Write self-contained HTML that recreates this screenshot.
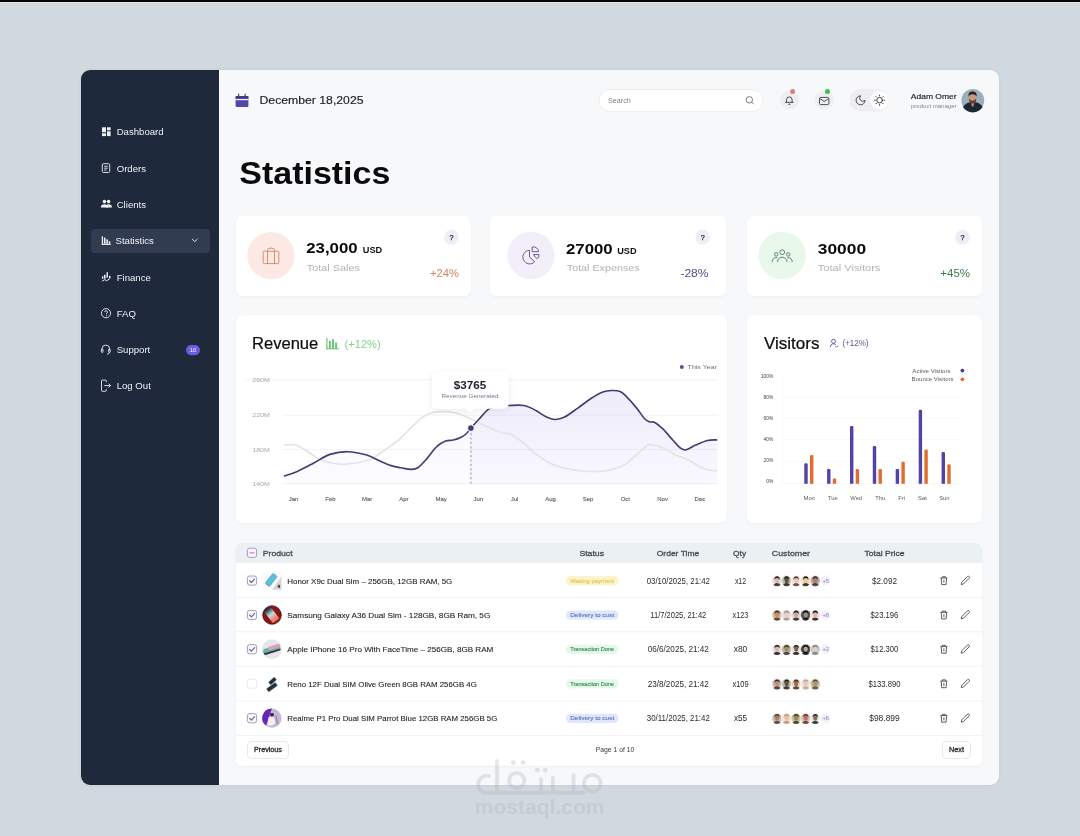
<!DOCTYPE html>
<html><head><meta charset="utf-8"><style>
html,body{margin:0;padding:0;background:#cfd9df;width:1080px;height:836px;overflow:hidden}
svg{display:block;font-family:"Liberation Sans", sans-serif;will-change:transform}
</style></head><body>
<svg width="1080" height="836" viewBox="0 0 1080 836">
<defs>
<linearGradient id="revfill" x1="0" y1="0" x2="0" y2="1">
<stop offset="0" stop-color="#efebfb" stop-opacity="1"/>
<stop offset="1" stop-color="#f9f8fe" stop-opacity="1"/>
</linearGradient>
<filter id="sh" x="-10%" y="-10%" width="120%" height="130%"><feDropShadow dx="0" dy="1" stdDeviation="1.5" flood-color="#000" flood-opacity="0.04"/></filter>
<filter id="tsh" x="-20%" y="-20%" width="140%" height="160%"><feDropShadow dx="0" dy="2" stdDeviation="3" flood-color="#000" flood-opacity="0.08"/></filter>
<filter id="msh" x="-5%" y="-5%" width="110%" height="110%"><feDropShadow dx="0" dy="0" stdDeviation="1.6" flood-color="#000" flood-opacity="0.07"/></filter>
<clipPath id="revclip"><rect x="236" y="315" width="491" height="208" rx="8"/></clipPath>
</defs>
<rect x="0" y="0" width="1080" height="2" fill="#050608"/>
<rect x="0" y="2" width="1080" height="1" fill="#e2e6ea"/>
<rect x="81" y="70" width="918" height="715" rx="9" fill="#f7f8fa" filter="url(#msh)"/>
<path d="M90,70 H219 V785 H90 A9,9 0 0 1 81,776 V79 A9,9 0 0 1 90,70 Z" fill="#1e293b"/>
<rect x="91" y="229" width="119" height="24" rx="4" fill="#323c50"/>
<text x="116.7" y="135.3" font-size="9.6" fill="#eef0f4">Dashboard</text>
<text x="116.7" y="171.5" font-size="9.6" fill="#eef0f4">Orders</text>
<text x="116.7" y="208.0" font-size="9.6" fill="#eef0f4">Clients</text>
<text x="115.5" y="244.2" font-size="9.6" fill="#eef0f4">Statistics</text>
<text x="116.7" y="280.5" font-size="9.6" fill="#eef0f4">Finance</text>
<text x="116.7" y="316.7" font-size="9.6" fill="#eef0f4">FAQ</text>
<text x="116.7" y="353.0" font-size="9.6" fill="#eef0f4">Support</text>
<text x="116.7" y="389.3" font-size="9.6" fill="#eef0f4">Log Out</text>
<g fill="#eef0f4"><rect x="102" y="127.3" width="4" height="5" /><rect x="107" y="127.3" width="3.6" height="3"/><rect x="107" y="131.3" width="3.6" height="4.8"/><rect x="102" y="133.3" width="4" height="2.8"/></g>
<g fill="none" stroke="#eef0f4" stroke-width="0.9"><rect x="102.3" y="163.7" width="7.4" height="8.8" rx="1.2"/><path d="M104.2,166.3h3.6M104.2,168.2h3.6M104.2,170.1h2.4"/></g>
<g fill="#eef0f4"><circle cx="104.4" cy="201.6" r="1.8"/><circle cx="108.6" cy="201.6" r="1.8"/><path d="M100.8,207.6c0,-2.4 1.6,-3.4 3.6,-3.4s3.6,1 3.6,3.4z"/><path d="M105.6,207.6c0.2,-2.2 1.2,-3.4 3,-3.4s3.4,1 3.4,3.4z"/></g>
<g fill="#eef0f4"><rect x="101.8" y="236.3" width="1.2" height="8.6"/><rect x="101.8" y="243.7" width="9" height="1.2"/><rect x="103.9" y="237.6" width="1.6" height="6.1"/><rect x="106.3" y="239.4" width="1.6" height="4.3"/><rect x="108.7" y="241.3" width="1.6" height="2.4"/></g>
<path d="M192.4,239.3 l2.4,2.3 l2.4,-2.3" fill="none" stroke="#eef0f4" stroke-width="0.95" stroke-linecap="round" stroke-linejoin="round"/>
<g fill="#eef0f4"><rect x="102" y="276.3" width="1.3" height="2.6"/><rect x="104" y="274.8" width="1.6" height="3.8"/><rect x="106.5" y="272.2" width="1.4" height="5.4"/><rect x="108.9" y="275.9" width="1.6" height="2"/></g><path d="M102.2,281.2 L104.8,279.6 L106.7,280.8 L110.4,278.2" fill="none" stroke="#eef0f4" stroke-width="1"/>
<g fill="none" stroke="#eef0f4" stroke-width="0.9"><circle cx="106" cy="313.2" r="4.6"/><path d="M104.6,312.1 a1.45,1.45 0 1 1 1.9,1.4 v0.8"/></g><circle cx="106.5" cy="315.8" r="0.55" fill="#eef0f4"/>
<g fill="none" stroke="#eef0f4" stroke-width="0.9"><path d="M101.9,350.5 v-1.5 a3.9,3.9 0 0 1 7.8,0 v1.5"/><rect x="101.4" y="349.2" width="1.6" height="3.2" rx="0.6"/><rect x="108.6" y="349.2" width="1.6" height="3.2" rx="0.6"/><path d="M109.4,352.4 q0,1.6 -2.4,1.8"/></g>
<rect x="186" y="345" width="14" height="10.2" rx="5.1" fill="#6a5be0"/>
<text x="193" y="351.9" font-size="5.8" fill="#ffffff" text-anchor="middle">10</text>
<g fill="none" stroke="#eef0f4" stroke-width="0.9"><path d="M106.3,382.2 v-1.2 a0.9,0.9 0 0 0 -0.9,-0.9 h-3 a0.9,0.9 0 0 0 -0.9,0.9 v9.4 a0.9,0.9 0 0 0 0.9,0.9 h3 a0.9,0.9 0 0 0 0.9,-0.9 v-1.2"/><path d="M104.3,385.6 h6.2 M108.6,383.7 l1.9,1.9 l-1.9,1.9"/></g>
<rect x="235.6" y="96" width="12.8" height="10.9" rx="1.2" fill="#5545a8"/><rect x="235.6" y="96" width="12.8" height="2.9" rx="0.8" fill="#42368f"/><rect x="235.3" y="98.9" width="13.4" height="1.3" fill="#f4f2fd"/><rect x="238.1" y="93.7" width="1.1" height="2.6" fill="#3c3658"/><rect x="244.6" y="93.7" width="1.1" height="2.6" fill="#3c3658"/>
<text x="259.5" y="104.2" font-size="11.7" fill="#1d1d1f" stroke="#1d1d1f" stroke-width="0.15" textLength="104" lengthAdjust="spacingAndGlyphs">December 18,2025</text>
<rect x="599" y="89.5" width="164" height="22" rx="11" fill="#ffffff" stroke="#e8eaee" stroke-width="0.8"/>
<text x="608" y="102.9" font-size="7" fill="#7d8088" textLength="22.8" lengthAdjust="spacingAndGlyphs">Search</text>
<g fill="none" stroke="#666a70" stroke-width="0.9"><circle cx="749.3" cy="99.8" r="3.2"/><path d="M751.6,102.1 l2.2,2.2"/></g>
<circle cx="789.5" cy="100" r="9.5" fill="#edeef0"/>
<g fill="none" stroke="#3a3d44" stroke-width="0.9" stroke-linecap="round"><path d="M785.5,102.3 h7.6 M786.5,102.3 v-2.5 q0,-2.9 2.8,-2.9 q2.8,0 2.8,2.9 v2.5"/><path d="M788.5,104.2 h1.6"/></g>
<circle cx="792.6" cy="91.5" r="2.5" fill="#e07885"/>
<circle cx="824.3" cy="100" r="9.5" fill="#edeef0"/>
<g fill="none" stroke="#3a3d44" stroke-width="0.9"><rect x="819.5" y="97.4" width="9.4" height="7.2" rx="1.3"/><path d="M819.9,98.6 l4.3,2.9 l4.3,-2.9"/></g>
<circle cx="827.5" cy="91.5" r="2.5" fill="#3ec04c"/>
<rect x="849.5" y="89" width="40" height="22.4" rx="11.2" fill="#eeeef0"/>
<circle cx="879.5" cy="100.2" r="9.4" fill="#ffffff"/>
<path transform="translate(854.6,94.3) scale(0.5)" d="M12 3a6 6 0 0 0 9 9 9 9 0 1 1-9-9Z" fill="none" stroke="#3a3d44" stroke-width="1.8" stroke-linejoin="round"/>
<g fill="none" stroke="#3a3d44" stroke-width="1" stroke-linecap="round"><circle cx="879.6" cy="100.2" r="2.8"/><path d="M883.90,100.20L884.70,100.20M882.64,103.24L883.21,103.81M879.60,104.50L879.60,105.30M876.56,103.24L875.99,103.81M875.30,100.20L874.50,100.20M876.56,97.16L875.99,96.59M879.60,95.90L879.60,95.10M882.64,97.16L883.21,96.59"/></g>
<text x="910.8" y="99.1" font-size="7.2" fill="#1d1d1f" stroke="#1d1d1f" stroke-width="0.15" textLength="45.8" lengthAdjust="spacingAndGlyphs">Adam Omer</text>
<text x="911" y="107.6" font-size="5.4" fill="#85878d" textLength="45.5" lengthAdjust="spacingAndGlyphs">product manager</text>
<circle cx="972.8" cy="100.4" r="11.4" fill="#9cadbb"/>
<path d="M963,107 Q965.5,103 970.3,102.3 L975.3,102.3 Q980.3,103 982.6,107 A11.4,11.4 0 0 1 963,107 Z" fill="#1b2633"/>
<path d="M971,102 L974.4,102 L973.6,106.5 L971.8,106.5 Z" fill="#b08870"/>
<ellipse cx="972.6" cy="98.3" rx="3.7" ry="4.5" fill="#c49a80"/>
<path d="M968.9,98.6 Q969.2,103.6 972.6,103.6 Q976,103.6 976.3,98.6 Q974.8,100.8 972.6,100.8 Q970.4,100.8 968.9,98.6 Z" fill="#5e3e2c"/>
<path d="M968.5,97 Q967.8,91.6 972.5,91.6 Q977.3,91.6 976.6,97 Q975.8,94.2 972.5,94.2 Q969.3,94.2 968.5,97 Z" fill="#28211c"/>
<text x="239.3" y="183.9" font-size="32" fill="#0b0b0c" font-weight="700" textLength="151" lengthAdjust="spacingAndGlyphs">Statistics</text>
<rect x="236" y="216" width="235" height="80" rx="7" fill="#ffffff" filter="url(#sh)"/>
<rect x="490" y="216" width="236" height="80" rx="7" fill="#ffffff" filter="url(#sh)"/>
<rect x="747" y="216" width="235" height="80" rx="7" fill="#ffffff" filter="url(#sh)"/>
<circle cx="271" cy="255.7" r="23.7" fill="#fce9e3"/>
<circle cx="531" cy="255.5" r="23.7" fill="#f2effb"/>
<circle cx="782.2" cy="255.5" r="23.7" fill="#e8f9ec"/>
<g fill="none" stroke="#d08466" stroke-width="0.9"><rect x="263.2" y="251.2" width="15.6" height="12.4" rx="1"/><path d="M267.5,251.2 v-0.6 a3.5,2.6 0 0 1 7,0 v0.6"/><path d="M267.5,251.2 v12.4 M274.5,251.2 v12.4"/></g>
<g fill="none" stroke="#5a4a8a" stroke-width="0.9"><path d="M529.5,250.3 a6.8,6.8 0 1 0 5.2,11.4 l-5.2,-4.6 z"/><path d="M532.2,247 a5,5 0 0 1 6.3,4.7 h-6.3 z"/><path d="M533.4,254.6 h5.6 a3.4,3.4 0 0 1 -2.2,4.1 z"/></g>
<g fill="none" stroke="#4f7d52" stroke-width="0.9"><circle cx="782.2" cy="252.2" r="2.4"/><path d="M777.4,262 a4.8,4.8 0 0 1 9.6,0"/><circle cx="776.2" cy="254.4" r="1.7"/><path d="M772.2,262 a4,4 0 0 1 5,-4.3"/><circle cx="788.2" cy="254.4" r="1.7"/><path d="M792.2,262 a4,4 0 0 0 -5,-4.3"/></g>
<text x="306.2" y="253.4" font-size="15.2" fill="#0b0b0c" font-weight="700" textLength="51.4" lengthAdjust="spacingAndGlyphs">23,000</text>
<text x="362.8" y="253.3" font-size="8.3" fill="#111" font-weight="700" textLength="19.4" lengthAdjust="spacingAndGlyphs">USD</text>
<text x="566" y="253.6" font-size="15.2" fill="#0b0b0c" font-weight="700" textLength="46.6" lengthAdjust="spacingAndGlyphs">27000</text>
<text x="617.2" y="253.7" font-size="8.3" fill="#111" font-weight="700" textLength="19.4" lengthAdjust="spacingAndGlyphs">USD</text>
<text x="817.8" y="253.6" font-size="15.2" fill="#0b0b0c" font-weight="700" textLength="48.3" lengthAdjust="spacingAndGlyphs">30000</text>
<text x="306.8" y="270.6" font-size="9.8" fill="#b3b3b6" textLength="53.2" lengthAdjust="spacingAndGlyphs">Total Sales</text>
<text x="566.8" y="270.6" font-size="9.8" fill="#b3b3b6" textLength="72.8" lengthAdjust="spacingAndGlyphs">Total Expenses</text>
<text x="817.8" y="270.6" font-size="9.8" fill="#b3b3b6" textLength="62.6" lengthAdjust="spacingAndGlyphs">Total Visitors</text>
<circle cx="451.5" cy="237.2" r="7.4" fill="#eeeef8"/>
<text x="451.5" y="239.7" font-size="7.2" fill="#222" stroke="#222" stroke-width="0.25" text-anchor="middle">?</text>
<circle cx="702.7" cy="237" r="7.4" fill="#eeeef8"/>
<text x="702.7" y="239.5" font-size="7.2" fill="#222" stroke="#222" stroke-width="0.25" text-anchor="middle">?</text>
<circle cx="962.5" cy="237.2" r="7.4" fill="#eeeef8"/>
<text x="962.5" y="239.7" font-size="7.2" fill="#222" stroke="#222" stroke-width="0.25" text-anchor="middle">?</text>
<text x="430" y="277.4" font-size="10.8" fill="#d0855c" textLength="28.8" lengthAdjust="spacingAndGlyphs">+24%</text>
<text x="680.4" y="277.4" font-size="10.8" fill="#564a8c" textLength="28.2" lengthAdjust="spacingAndGlyphs">-28%</text>
<text x="940.3" y="277.4" font-size="10.8" fill="#3f7a45" textLength="29.7" lengthAdjust="spacingAndGlyphs">+45%</text>
<rect x="236" y="315.3" width="491" height="207.5" rx="7" fill="#ffffff" filter="url(#sh)"/>
<text x="252" y="349.4" font-size="16.4" fill="#0b0b0c" stroke="#0b0b0c" stroke-width="0.2" textLength="66.3" lengthAdjust="spacingAndGlyphs">Revenue</text>
<g fill="#6cc77b"><rect x="326.3" y="338" width="1.2" height="11.3"/><rect x="326.3" y="348.1" width="12.5" height="1.2"/><rect x="328.9" y="341" width="2" height="7.1"/><rect x="332" y="339.2" width="2" height="8.9"/><rect x="335.1" y="342.5" width="2" height="5.6"/></g>
<text x="344.6" y="348.3" font-size="11.4" fill="#86cf92" textLength="36" lengthAdjust="spacingAndGlyphs">(+12%)</text>
<circle cx="681.8" cy="367.1" r="2" fill="#5b4ba8"/>
<text x="687.6" y="369.3" font-size="6.2" fill="#6a6d75" textLength="29.3" lengthAdjust="spacingAndGlyphs">This Year</text>
<text x="252.3" y="381.90000000000003" font-size="6.2" fill="#a8aab0" textLength="17.6" lengthAdjust="spacingAndGlyphs">260M</text>
<text x="252.3" y="417.3" font-size="6.2" fill="#a8aab0" textLength="17.6" lengthAdjust="spacingAndGlyphs">220M</text>
<text x="252.3" y="451.5" font-size="6.2" fill="#a8aab0" textLength="17.6" lengthAdjust="spacingAndGlyphs">180M</text>
<text x="252.3" y="485.8" font-size="6.2" fill="#a8aab0" textLength="17.6" lengthAdjust="spacingAndGlyphs">140M</text>
<path d="M283.9,476.1 C286.0,475.4 291.8,473.8 296.7,471.7 C301.6,469.6 307.8,466.2 313.3,463.3 C318.9,460.4 324.2,456.3 330.0,454.4 C335.8,452.5 341.7,451.6 347.8,451.7 C353.9,451.8 361.3,453.4 366.7,455.0 C372.1,456.6 375.9,459.3 380.0,461.1 C384.1,462.9 387.6,464.5 391.1,465.6 C394.6,466.7 397.8,467.2 401.1,467.8 C404.4,468.4 408.3,469.4 411.1,469.4 C413.9,469.4 415.2,469.6 417.8,467.8 C420.4,466.1 423.6,462.4 426.7,458.9 C429.8,455.4 433.5,449.7 436.7,446.7 C439.9,443.7 442.8,442.2 445.6,441.1 C448.4,440.0 450.7,440.6 453.3,440.0 C455.9,439.4 458.9,438.3 461.1,437.2 C463.3,436.1 464.9,435.0 466.5,433.5 C468.1,432.0 468.8,430.5 470.9,428.1 C473.0,425.7 475.9,422.4 478.9,419.2 C481.9,416.0 485.9,411.1 488.9,408.9 C491.9,406.7 493.8,406.4 497.0,405.8 C500.2,405.2 503.9,405.6 508.4,405.5 C512.9,405.4 519.3,404.7 523.9,405.5 C528.5,406.3 532.3,408.7 535.9,410.5 C539.5,412.3 542.3,415.0 545.5,416.5 C548.7,418.0 551.8,419.4 555.0,419.5 C558.2,419.6 560.8,419.0 564.6,417.1 C568.4,415.2 573.4,411.2 577.8,408.1 C582.2,405.0 586.7,401.2 590.9,398.5 C595.1,395.8 599.5,393.3 602.9,392.0 C606.3,390.7 608.4,390.6 611.2,390.5 C614.0,390.4 617.2,390.3 619.6,391.2 C622.0,392.1 623.0,393.1 625.8,395.8 C628.6,398.5 633.2,403.9 636.3,407.6 C639.4,411.3 642.0,415.8 644.2,418.2 C646.4,420.6 647.8,421.1 649.5,421.8 C651.2,422.5 652.5,421.2 654.7,422.4 C656.9,423.5 659.5,425.7 662.6,428.7 C665.7,431.7 670.1,437.2 673.2,440.5 C676.3,443.8 678.8,446.9 681.0,448.4 C683.2,449.9 683.9,450.2 686.3,449.7 C688.7,449.1 692.0,446.6 695.5,445.1 C699.0,443.6 703.8,441.4 707.4,440.5 C711.0,439.6 715.6,440.0 717.2,439.9 L717.2,484 L283.9,484 Z" fill="url(#revfill)"/>
<rect x="283" y="380" width="188" height="104" fill="#ffffff" opacity="0.55"/>
<rect x="245" y="379.40000000000003" width="473" height="0.8" fill="#5a5080" opacity="0.085"/>
<rect x="283" y="414.8" width="435" height="0.8" fill="#5a5080" opacity="0.085"/>
<rect x="283" y="449.0" width="435" height="0.8" fill="#5a5080" opacity="0.085"/>
<rect x="283" y="483.3" width="435" height="0.8" fill="#5a5080" opacity="0.085"/>
<path d="M283.9,445.0 C285.8,445.0 292.0,444.2 295.6,445.0 C299.2,445.8 301.7,447.7 305.6,450.0 C309.5,452.3 314.5,456.7 318.9,458.9 C323.3,461.1 327.4,462.1 332.0,463.0 C336.6,463.9 340.6,464.7 346.7,464.2 C352.8,463.7 363.3,461.8 368.9,460.0 C374.4,458.2 376.3,455.7 380.0,453.3 C383.7,450.9 387.6,448.2 391.1,445.6 C394.6,443.0 397.6,441.0 401.1,437.8 C404.6,434.6 408.5,430.2 412.2,426.7 C415.9,423.2 419.6,419.1 423.3,416.7 C427.0,414.3 430.7,413.0 434.4,412.2 C438.1,411.4 441.5,411.4 445.6,411.7 C449.7,412.0 454.3,412.5 458.9,413.9 C463.5,415.3 469.1,418.1 473.3,420.0 C477.6,421.9 479.8,423.6 484.4,425.6 C489.0,427.6 496.5,430.6 501.1,432.2 C505.7,433.8 508.2,433.1 512.0,435.0 C515.8,436.9 519.9,440.2 523.9,443.4 C527.9,446.6 530.9,450.6 535.9,454.2 C540.9,457.8 547.8,462.3 553.8,464.9 C559.8,467.5 565.8,468.6 571.8,469.7 C577.8,470.8 583.7,471.4 589.7,471.5 C595.7,471.6 602.1,471.3 607.7,470.3 C613.3,469.3 618.4,468.1 623.2,465.5 C628.0,462.9 632.4,458.3 636.3,455.0 C640.2,451.7 644.2,447.5 646.8,445.8 C649.4,444.1 649.5,444.6 652.1,444.9 C654.7,445.2 658.7,446.1 662.6,447.8 C666.5,449.5 672.1,453.2 675.8,455.0 C679.5,456.8 681.7,456.8 685.0,458.3 C688.3,459.8 692.0,462.3 695.5,464.2 C699.0,466.1 702.4,468.4 706.0,469.5 C709.6,470.6 715.3,470.6 717.2,470.8" fill="none" stroke="#e4e3ea" stroke-width="1.7"/>
<path d="M283.9,476.1 C286.0,475.4 291.8,473.8 296.7,471.7 C301.6,469.6 307.8,466.2 313.3,463.3 C318.9,460.4 324.2,456.3 330.0,454.4 C335.8,452.5 341.7,451.6 347.8,451.7 C353.9,451.8 361.3,453.4 366.7,455.0 C372.1,456.6 375.9,459.3 380.0,461.1 C384.1,462.9 387.6,464.5 391.1,465.6 C394.6,466.7 397.8,467.2 401.1,467.8 C404.4,468.4 408.3,469.4 411.1,469.4 C413.9,469.4 415.2,469.6 417.8,467.8 C420.4,466.1 423.6,462.4 426.7,458.9 C429.8,455.4 433.5,449.7 436.7,446.7 C439.9,443.7 442.8,442.2 445.6,441.1 C448.4,440.0 450.7,440.6 453.3,440.0 C455.9,439.4 458.9,438.3 461.1,437.2 C463.3,436.1 464.9,435.0 466.5,433.5 C468.1,432.0 468.8,430.5 470.9,428.1 C473.0,425.7 475.9,422.4 478.9,419.2 C481.9,416.0 485.9,411.1 488.9,408.9 C491.9,406.7 493.8,406.4 497.0,405.8 C500.2,405.2 503.9,405.6 508.4,405.5 C512.9,405.4 519.3,404.7 523.9,405.5 C528.5,406.3 532.3,408.7 535.9,410.5 C539.5,412.3 542.3,415.0 545.5,416.5 C548.7,418.0 551.8,419.4 555.0,419.5 C558.2,419.6 560.8,419.0 564.6,417.1 C568.4,415.2 573.4,411.2 577.8,408.1 C582.2,405.0 586.7,401.2 590.9,398.5 C595.1,395.8 599.5,393.3 602.9,392.0 C606.3,390.7 608.4,390.6 611.2,390.5 C614.0,390.4 617.2,390.3 619.6,391.2 C622.0,392.1 623.0,393.1 625.8,395.8 C628.6,398.5 633.2,403.9 636.3,407.6 C639.4,411.3 642.0,415.8 644.2,418.2 C646.4,420.6 647.8,421.1 649.5,421.8 C651.2,422.5 652.5,421.2 654.7,422.4 C656.9,423.5 659.5,425.7 662.6,428.7 C665.7,431.7 670.1,437.2 673.2,440.5 C676.3,443.8 678.8,446.9 681.0,448.4 C683.2,449.9 683.9,450.2 686.3,449.7 C688.7,449.1 692.0,446.6 695.5,445.1 C699.0,443.6 703.8,441.4 707.4,440.5 C711.0,439.6 715.6,440.0 717.2,439.9" fill="none" stroke="#463b72" stroke-width="1.65"/>
<path d="M470.9,433 V484" stroke="#a6a1ba" stroke-width="1.25" stroke-dasharray="2.2,2.2"/>
<circle cx="470.9" cy="428.1" r="3.4" fill="#463b72" stroke="#ffffff" stroke-width="1"/>
<g filter="url(#tsh)"><rect x="432" y="372" width="76.6" height="36.8" rx="5" fill="#ffffff"/><path d="M465.8,408.3 l4.5,4.2 l4.5,-4.2z" fill="#ffffff"/></g>
<text x="470" y="388.6" font-size="11.2" fill="#1b2130" font-weight="700" text-anchor="middle" textLength="32.5" lengthAdjust="spacingAndGlyphs">$3765</text>
<text x="470" y="397.6" font-size="5.2" fill="#7a7d85" text-anchor="middle" textLength="57" lengthAdjust="spacingAndGlyphs">Revenue Generated</text>
<text x="293.5" y="500.9" font-size="6" fill="#55585f" stroke="#55585f" stroke-width="0.1" text-anchor="middle">Jan</text>
<text x="330.4" y="500.9" font-size="6" fill="#55585f" stroke="#55585f" stroke-width="0.1" text-anchor="middle">Feb</text>
<text x="367.1" y="500.9" font-size="6" fill="#55585f" stroke="#55585f" stroke-width="0.1" text-anchor="middle">Mar</text>
<text x="403.8" y="500.9" font-size="6" fill="#55585f" stroke="#55585f" stroke-width="0.1" text-anchor="middle">Apr</text>
<text x="441.1" y="500.9" font-size="6" fill="#55585f" stroke="#55585f" stroke-width="0.1" text-anchor="middle">May</text>
<text x="478.4" y="500.9" font-size="6" fill="#55585f" stroke="#55585f" stroke-width="0.1" text-anchor="middle">Jun</text>
<text x="514.5" y="500.9" font-size="6" fill="#55585f" stroke="#55585f" stroke-width="0.1" text-anchor="middle">Jul</text>
<text x="550.6" y="500.9" font-size="6" fill="#55585f" stroke="#55585f" stroke-width="0.1" text-anchor="middle">Aug</text>
<text x="588" y="500.9" font-size="6" fill="#55585f" stroke="#55585f" stroke-width="0.1" text-anchor="middle">Sep</text>
<text x="625.3" y="500.9" font-size="6" fill="#55585f" stroke="#55585f" stroke-width="0.1" text-anchor="middle">Oct</text>
<text x="662.6" y="500.9" font-size="6" fill="#55585f" stroke="#55585f" stroke-width="0.1" text-anchor="middle">Nov</text>
<text x="699.9" y="500.9" font-size="6" fill="#55585f" stroke="#55585f" stroke-width="0.1" text-anchor="middle">Dec</text>
<rect x="747" y="315.3" width="235" height="207.5" rx="7" fill="#ffffff" filter="url(#sh)"/>
<text x="764" y="349" font-size="16" fill="#0b0b0c" stroke="#0b0b0c" stroke-width="0.2" textLength="55.5" lengthAdjust="spacingAndGlyphs">Visitors</text>
<g fill="none" stroke="#5b4ba8" stroke-width="0.9"><circle cx="833.5" cy="341.3" r="2"/><path d="M830.3,347 a3.3,3.3 0 0 1 5.6,-2.3 M835.5,346.2 l1,1 l1.8,-1.8"/></g>
<text x="842.5" y="346.3" font-size="8.6" fill="#5a5a88" textLength="26" lengthAdjust="spacingAndGlyphs">(+12%)</text>
<text x="912.3" y="372.5" font-size="5.6" fill="#5a5d66" textLength="38.3" lengthAdjust="spacingAndGlyphs">Active Visitors</text>
<text x="911.6" y="381.3" font-size="5.6" fill="#5a5d66" textLength="42" lengthAdjust="spacingAndGlyphs">Bounce Visitors</text>
<circle cx="962.4" cy="370.6" r="1.9" fill="#4d3b9c"/><circle cx="962.4" cy="379.3" r="1.9" fill="#e0723a"/>
<text x="773.4" y="377.6" font-size="4.9" fill="#444" text-anchor="end">100%</text>
<text x="773.4" y="398.6" font-size="4.9" fill="#444" text-anchor="end">80%</text>
<text x="773.4" y="419.7" font-size="4.9" fill="#444" text-anchor="end">60%</text>
<text x="773.4" y="441.0" font-size="4.9" fill="#444" text-anchor="end">40%</text>
<text x="773.4" y="462.40000000000003" font-size="4.9" fill="#444" text-anchor="end">20%</text>
<text x="773.4" y="483.3" font-size="4.9" fill="#444" text-anchor="end">0%</text>
<rect x="782" y="396.5" width="180" height="0.6" fill="#f3f3f6"/>
<rect x="782" y="417.59999999999997" width="180" height="0.6" fill="#f3f3f6"/>
<rect x="782" y="439.09999999999997" width="180" height="0.6" fill="#f3f3f6"/>
<rect x="782" y="460.9" width="180" height="0.6" fill="#f3f3f6"/>
<rect x="782" y="375" width="0.6" height="109" fill="#f3f3f6"/>
<rect x="782" y="483.4" width="180" height="0.6" fill="#f3f3f6"/>
<rect x="804.3" y="463.2" width="3.4" height="22.600000000000023" rx="1.2" fill="#5042a6"/>
<rect x="810.0" y="455" width="3.4" height="30.80000000000001" rx="1.2" fill="#e06c2e"/>
<rect x="827.1" y="469" width="3.4" height="16.80000000000001" rx="1.2" fill="#5042a6"/>
<rect x="832.8000000000001" y="478.4" width="3.4" height="7.400000000000034" rx="1.2" fill="#e06c2e"/>
<rect x="850" y="425.9" width="3.4" height="59.900000000000034" rx="1.2" fill="#5042a6"/>
<rect x="855.7" y="469" width="3.4" height="16.80000000000001" rx="1.2" fill="#e06c2e"/>
<rect x="872.8" y="446.1" width="3.4" height="39.69999999999999" rx="1.2" fill="#5042a6"/>
<rect x="878.5" y="469" width="3.4" height="16.80000000000001" rx="1.2" fill="#e06c2e"/>
<rect x="895.7" y="469" width="3.4" height="16.80000000000001" rx="1.2" fill="#5042a6"/>
<rect x="901.4000000000001" y="461.8" width="3.4" height="24.0" rx="1.2" fill="#e06c2e"/>
<rect x="918.7" y="409.7" width="3.4" height="76.10000000000002" rx="1.2" fill="#5042a6"/>
<rect x="924.4000000000001" y="449.6" width="3.4" height="36.19999999999999" rx="1.2" fill="#e06c2e"/>
<rect x="941.6" y="452.1" width="3.4" height="33.69999999999999" rx="1.2" fill="#5042a6"/>
<rect x="947.3000000000001" y="464.2" width="3.4" height="21.600000000000023" rx="1.2" fill="#e06c2e"/>
<rect x="800" y="483.8" width="160" height="3" fill="#ffffff"/>
<text x="809.2" y="500.3" font-size="5.8" fill="#55585f" text-anchor="middle">Mon</text>
<text x="832.9" y="500.3" font-size="5.8" fill="#55585f" text-anchor="middle">Tue</text>
<text x="856.2" y="500.3" font-size="5.8" fill="#55585f" text-anchor="middle">Wed</text>
<text x="880.2" y="500.3" font-size="5.8" fill="#55585f" text-anchor="middle">Thu</text>
<text x="901.6" y="500.3" font-size="5.8" fill="#55585f" text-anchor="middle">Fri</text>
<text x="922.4" y="500.3" font-size="5.8" fill="#55585f" text-anchor="middle">Sat</text>
<text x="944.3" y="500.3" font-size="5.8" fill="#55585f" text-anchor="middle">Sun</text>
<rect x="236" y="543" width="746" height="222.8" rx="5" fill="#ffffff" filter="url(#sh)"/>
<path d="M242,543 H976 A6,6 0 0 1 982,549 V563 H236 V549 A6,6 0 0 1 242,543 Z" fill="#ebf0f3"/>
<rect x="236" y="596.9" width="746" height="0.9" fill="#eff0f2"/>
<rect x="236" y="631.4" width="746" height="0.9" fill="#eff0f2"/>
<rect x="236" y="665.9" width="746" height="0.9" fill="#eff0f2"/>
<rect x="236" y="700.4" width="746" height="0.9" fill="#eff0f2"/>
<rect x="236" y="734.9" width="746" height="0.9" fill="#eff0f2"/>
<rect x="247.4" y="548.2" width="9.2" height="9.2" rx="2.2" fill="#fbf3fd" stroke="#8f86a3" stroke-width="0.8"/><rect x="249.6" y="552.3" width="4.8" height="1.1" fill="#b07fc8"/>
<text x="262.8" y="555.9" font-size="7.6" fill="#4a4d55" stroke="#4a4d55" stroke-width="0.3" textLength="29.8" lengthAdjust="spacingAndGlyphs">Product</text>
<text x="591.7" y="555.9" font-size="7.6" fill="#4a4d55" stroke="#4a4d55" stroke-width="0.3" text-anchor="middle" textLength="24.6" lengthAdjust="spacingAndGlyphs">Status</text>
<text x="678" y="555.9" font-size="7.6" fill="#4a4d55" stroke="#4a4d55" stroke-width="0.3" text-anchor="middle" textLength="42.6" lengthAdjust="spacingAndGlyphs">Order Time</text>
<text x="739.6" y="555.9" font-size="7.6" fill="#4a4d55" stroke="#4a4d55" stroke-width="0.3" text-anchor="middle" textLength="13" lengthAdjust="spacingAndGlyphs">Qty</text>
<text x="771.8" y="555.9" font-size="7.6" fill="#4a4d55" stroke="#4a4d55" stroke-width="0.3" textLength="38.2" lengthAdjust="spacingAndGlyphs">Customer</text>
<text x="884.5" y="555.9" font-size="7.6" fill="#4a4d55" stroke="#4a4d55" stroke-width="0.3" text-anchor="middle" textLength="39.8" lengthAdjust="spacingAndGlyphs">Total Price</text>
<rect x="247.4" y="576.0" width="9.2" height="9.2" rx="2.2" fill="#fbf6fd" stroke="#8f86a3" stroke-width="0.8"/>
<path d="M249.6,580.7 l1.8,1.8 l3.2,-3.4" fill="none" stroke="#6e5c9e" stroke-width="1.1" stroke-linecap="round" stroke-linejoin="round"/>
<text x="287.3" y="583.8000000000001" font-size="8.0" fill="#222328" stroke="#222328" stroke-width="0.1" textLength="165" lengthAdjust="spacingAndGlyphs">Honor X9c Dual Sim – 256GB, 12GB RAM, 5G</text>
<rect x="566" y="576.1" width="52.5" height="9.2" rx="4.6" fill="#fcf3c9"/>
<text x="592.2" y="582.7" font-size="5.1" fill="#e2c45a" stroke="#e2c45a" stroke-width="0.1" text-anchor="middle" textLength="44" lengthAdjust="spacingAndGlyphs">Waiting payment</text>
<text x="678.3" y="583.7" font-size="8.6" fill="#2a2b30" text-anchor="middle" textLength="63.2" lengthAdjust="spacingAndGlyphs">03/10/2025, 21:42</text>
<text x="740.5" y="583.7" font-size="8.3" fill="#2a2b30" text-anchor="middle" textLength="11.2" lengthAdjust="spacingAndGlyphs">x12</text>
<text x="884.5" y="583.7" font-size="8.6" fill="#2a2b30" text-anchor="middle" textLength="25" lengthAdjust="spacingAndGlyphs">$2.092</text>
<circle cx="777.0" cy="580.6" r="5" fill="#e8d8e4" stroke="#ffffff" stroke-width="0.5"/>
<path d="M773.4,584.8000000000001 q3.6,-3.4 7.2,0 a5,5 0 0 1 -7.2,0z" fill="#2a2020" opacity="0.85"/>
<ellipse cx="777.1" cy="580.4" rx="2.1" ry="2.7" fill="#e0b8a8"/>
<path d="M774.5,580.0 q-0.3,-3.6 2.6,-3.7 q2.9,0.1 2.6,3.7 q-0.6,-2 -2.6,-2.1 q-2,0.1 -2.6,2.1z" fill="#2a2020"/>
<circle cx="786.55" cy="580.6" r="5" fill="#b8c0a8" stroke="#ffffff" stroke-width="0.5"/>
<path d="M782.9499999999999,584.8000000000001 q3.6,-3.4 7.2,0 a5,5 0 0 1 -7.2,0z" fill="#202018" opacity="0.85"/>
<ellipse cx="786.65" cy="580.4" rx="2.1" ry="2.7" fill="#6a5040"/>
<path d="M784.05,580.0 q-0.3,-3.6 2.6,-3.7 q2.9,0.1 2.6,3.7 q-0.6,-2 -2.6,-2.1 q-2,0.1 -2.6,2.1z" fill="#202018"/>
<circle cx="796.1" cy="580.6" r="5" fill="#f0e4e0" stroke="#ffffff" stroke-width="0.5"/>
<path d="M792.5,584.8000000000001 q3.6,-3.4 7.2,0 a5,5 0 0 1 -7.2,0z" fill="#5a3a30" opacity="0.85"/>
<ellipse cx="796.2" cy="580.4" rx="2.1" ry="2.7" fill="#e8c8b8"/>
<path d="M793.6,580.0 q-0.3,-3.6 2.6,-3.7 q2.9,0.1 2.6,3.7 q-0.6,-2 -2.6,-2.1 q-2,0.1 -2.6,2.1z" fill="#5a3a30"/>
<circle cx="805.65" cy="580.6" r="5" fill="#f0dcc0" stroke="#ffffff" stroke-width="0.5"/>
<path d="M802.05,584.8000000000001 q3.6,-3.4 7.2,0 a5,5 0 0 1 -7.2,0z" fill="#201810" opacity="0.85"/>
<ellipse cx="805.75" cy="580.4" rx="2.1" ry="2.7" fill="#e8c8a0"/>
<path d="M803.15,580.0 q-0.3,-3.6 2.6,-3.7 q2.9,0.1 2.6,3.7 q-0.6,-2 -2.6,-2.1 q-2,0.1 -2.6,2.1z" fill="#201810"/>
<circle cx="815.2" cy="580.6" r="5" fill="#c0a8a0" stroke="#ffffff" stroke-width="0.5"/>
<path d="M811.6,584.8000000000001 q3.6,-3.4 7.2,0 a5,5 0 0 1 -7.2,0z" fill="#3a2a28" opacity="0.85"/>
<ellipse cx="815.3000000000001" cy="580.4" rx="2.1" ry="2.7" fill="#a08070"/>
<path d="M812.7,580.0 q-0.3,-3.6 2.6,-3.7 q2.9,0.1 2.6,3.7 q-0.6,-2 -2.6,-2.1 q-2,0.1 -2.6,2.1z" fill="#3a2a28"/>
<circle cx="825.6" cy="580.6" r="4.8" fill="#f3effb"/>
<text x="825.6" y="582.6" font-size="5.6" fill="#8a7cb8" text-anchor="middle">+5</text>
<g fill="none" stroke="#4a4d55" stroke-width="0.9"><path d="M940.4,578.0 h7 M942.4,578.0 v-1.3 h3 v1.3 M941.2,578.0 l0.5,6.6 h4.4 l0.5,-6.6 M943.9,579.8000000000001 v3"/></g>
<g fill="none" stroke="#4a4d55" stroke-width="0.9"><path d="M961.2,584.6 l0.6,-2.4 l5.6,-5.6 a1.2,1.2 0 0 1 1.7,1.7 l-5.6,5.6 z"/></g>
<rect x="247.4" y="610.3" width="9.2" height="9.2" rx="2.2" fill="#fbf6fd" stroke="#8f86a3" stroke-width="0.8"/>
<path d="M249.6,615.0 l1.8,1.8 l3.2,-3.4" fill="none" stroke="#6e5c9e" stroke-width="1.1" stroke-linecap="round" stroke-linejoin="round"/>
<text x="287.3" y="618.1" font-size="8.0" fill="#222328" stroke="#222328" stroke-width="0.1" textLength="203" lengthAdjust="spacingAndGlyphs">Samsung Galaxy A36 Dual Sim - 128GB, 8GB Ram, 5G</text>
<rect x="566" y="610.4" width="52.5" height="9.2" rx="4.6" fill="#dfe7fb"/>
<text x="592.2" y="617.0" font-size="5.1" fill="#5a72c4" stroke="#5a72c4" stroke-width="0.1" text-anchor="middle" textLength="44" lengthAdjust="spacingAndGlyphs">Delivery to cust</text>
<text x="678.3" y="618.0" font-size="8.6" fill="#2a2b30" text-anchor="middle" textLength="55.9" lengthAdjust="spacingAndGlyphs">11/7/2025, 21:42</text>
<text x="740.5" y="618.0" font-size="8.3" fill="#2a2b30" text-anchor="middle" textLength="15.8" lengthAdjust="spacingAndGlyphs">x123</text>
<text x="884.5" y="618.0" font-size="8.6" fill="#2a2b30" text-anchor="middle" textLength="27.8" lengthAdjust="spacingAndGlyphs">$23.196</text>
<circle cx="777.0" cy="614.9" r="5" fill="#d8b8a0" stroke="#ffffff" stroke-width="0.5"/>
<path d="M773.4,619.1 q3.6,-3.4 7.2,0 a5,5 0 0 1 -7.2,0z" fill="#4a2818" opacity="0.85"/>
<ellipse cx="777.1" cy="614.6999999999999" rx="2.1" ry="2.7" fill="#c09070"/>
<path d="M774.5,614.3 q-0.3,-3.6 2.6,-3.7 q2.9,0.1 2.6,3.7 q-0.6,-2 -2.6,-2.1 q-2,0.1 -2.6,2.1z" fill="#4a2818"/>
<circle cx="786.55" cy="614.9" r="5" fill="#e8dcdc" stroke="#ffffff" stroke-width="0.5"/>
<path d="M782.9499999999999,619.1 q3.6,-3.4 7.2,0 a5,5 0 0 1 -7.2,0z" fill="#a09088" opacity="0.85"/>
<ellipse cx="786.65" cy="614.6999999999999" rx="2.1" ry="2.7" fill="#e8d0c8"/>
<path d="M784.05,614.3 q-0.3,-3.6 2.6,-3.7 q2.9,0.1 2.6,3.7 q-0.6,-2 -2.6,-2.1 q-2,0.1 -2.6,2.1z" fill="#a09088"/>
<circle cx="796.1" cy="614.9" r="5" fill="#e0d8d0" stroke="#ffffff" stroke-width="0.5"/>
<path d="M792.5,619.1 q3.6,-3.4 7.2,0 a5,5 0 0 1 -7.2,0z" fill="#201818" opacity="0.85"/>
<ellipse cx="796.2" cy="614.6999999999999" rx="2.1" ry="2.7" fill="#c8a890"/>
<path d="M793.6,614.3 q-0.3,-3.6 2.6,-3.7 q2.9,0.1 2.6,3.7 q-0.6,-2 -2.6,-2.1 q-2,0.1 -2.6,2.1z" fill="#201818"/>
<circle cx="805.65" cy="614.9" r="5" fill="#505050" stroke="#ffffff" stroke-width="0.5"/>
<path d="M802.05,619.1 q3.6,-3.4 7.2,0 a5,5 0 0 1 -7.2,0z" fill="#101010" opacity="0.85"/>
<ellipse cx="805.75" cy="614.6999999999999" rx="2.1" ry="2.7" fill="#a09080"/>
<path d="M803.15,614.3 q-0.3,-3.6 2.6,-3.7 q2.9,0.1 2.6,3.7 q-0.6,-2 -2.6,-2.1 q-2,0.1 -2.6,2.1z" fill="#101010"/>
<circle cx="815.2" cy="614.9" r="5" fill="#f0e0e0" stroke="#ffffff" stroke-width="0.5"/>
<path d="M811.6,619.1 q3.6,-3.4 7.2,0 a5,5 0 0 1 -7.2,0z" fill="#1a1010" opacity="0.85"/>
<ellipse cx="815.3000000000001" cy="614.6999999999999" rx="2.1" ry="2.7" fill="#e0b8a8"/>
<path d="M812.7,614.3 q-0.3,-3.6 2.6,-3.7 q2.9,0.1 2.6,3.7 q-0.6,-2 -2.6,-2.1 q-2,0.1 -2.6,2.1z" fill="#1a1010"/>
<circle cx="825.6" cy="614.9" r="4.8" fill="#f3effb"/>
<text x="825.6" y="616.9" font-size="5.6" fill="#8a7cb8" text-anchor="middle">+8</text>
<g fill="none" stroke="#4a4d55" stroke-width="0.9"><path d="M940.4,612.3 h7 M942.4,612.3 v-1.3 h3 v1.3 M941.2,612.3 l0.5,6.6 h4.4 l0.5,-6.6 M943.9,614.1 v3"/></g>
<g fill="none" stroke="#4a4d55" stroke-width="0.9"><path d="M961.2,618.9 l0.6,-2.4 l5.6,-5.6 a1.2,1.2 0 0 1 1.7,1.7 l-5.6,5.6 z"/></g>
<rect x="247.4" y="644.6" width="9.2" height="9.2" rx="2.2" fill="#fbf6fd" stroke="#8f86a3" stroke-width="0.8"/>
<path d="M249.6,649.3000000000001 l1.8,1.8 l3.2,-3.4" fill="none" stroke="#6e5c9e" stroke-width="1.1" stroke-linecap="round" stroke-linejoin="round"/>
<text x="287.3" y="652.4000000000001" font-size="8.0" fill="#222328" stroke="#222328" stroke-width="0.1" textLength="206" lengthAdjust="spacingAndGlyphs">Apple IPhone 16 Pro With FaceTime – 256GB, 8GB RAM</text>
<rect x="566" y="644.7" width="52.5" height="9.2" rx="4.6" fill="#e5f7ea"/>
<text x="592.2" y="651.3000000000001" font-size="5.1" fill="#2f8a50" stroke="#2f8a50" stroke-width="0.1" text-anchor="middle" textLength="44" lengthAdjust="spacingAndGlyphs">Transaction Done</text>
<text x="678.3" y="652.3000000000001" font-size="8.6" fill="#2a2b30" text-anchor="middle" textLength="61.2" lengthAdjust="spacingAndGlyphs">06/6/2025, 21:42</text>
<text x="740.5" y="652.3000000000001" font-size="8.3" fill="#2a2b30" text-anchor="middle" textLength="13.6" lengthAdjust="spacingAndGlyphs">x80</text>
<text x="884.5" y="652.3000000000001" font-size="8.6" fill="#2a2b30" text-anchor="middle" textLength="27.8" lengthAdjust="spacingAndGlyphs">$12.300</text>
<circle cx="777.0" cy="649.2" r="5" fill="#f0d8e0" stroke="#ffffff" stroke-width="0.5"/>
<path d="M773.4,653.4000000000001 q3.6,-3.4 7.2,0 a5,5 0 0 1 -7.2,0z" fill="#181010" opacity="0.85"/>
<ellipse cx="777.1" cy="649.0" rx="2.1" ry="2.7" fill="#e0b8a0"/>
<path d="M774.5,648.6 q-0.3,-3.6 2.6,-3.7 q2.9,0.1 2.6,3.7 q-0.6,-2 -2.6,-2.1 q-2,0.1 -2.6,2.1z" fill="#181010"/>
<circle cx="786.55" cy="649.2" r="5" fill="#b8b898" stroke="#ffffff" stroke-width="0.5"/>
<path d="M782.9499999999999,653.4000000000001 q3.6,-3.4 7.2,0 a5,5 0 0 1 -7.2,0z" fill="#3a3020" opacity="0.85"/>
<ellipse cx="786.65" cy="649.0" rx="2.1" ry="2.7" fill="#a08870"/>
<path d="M784.05,648.6 q-0.3,-3.6 2.6,-3.7 q2.9,0.1 2.6,3.7 q-0.6,-2 -2.6,-2.1 q-2,0.1 -2.6,2.1z" fill="#3a3020"/>
<circle cx="796.1" cy="649.2" r="5" fill="#e8e4e0" stroke="#ffffff" stroke-width="0.5"/>
<path d="M792.5,653.4000000000001 q3.6,-3.4 7.2,0 a5,5 0 0 1 -7.2,0z" fill="#1a1410" opacity="0.85"/>
<ellipse cx="796.2" cy="649.0" rx="2.1" ry="2.7" fill="#806050"/>
<path d="M793.6,648.6 q-0.3,-3.6 2.6,-3.7 q2.9,0.1 2.6,3.7 q-0.6,-2 -2.6,-2.1 q-2,0.1 -2.6,2.1z" fill="#1a1410"/>
<circle cx="805.65" cy="649.2" r="5" fill="#404040" stroke="#ffffff" stroke-width="0.5"/>
<path d="M802.05,653.4000000000001 q3.6,-3.4 7.2,0 a5,5 0 0 1 -7.2,0z" fill="#101010" opacity="0.85"/>
<ellipse cx="805.75" cy="649.0" rx="2.1" ry="2.7" fill="#c0a090"/>
<path d="M803.15,648.6 q-0.3,-3.6 2.6,-3.7 q2.9,0.1 2.6,3.7 q-0.6,-2 -2.6,-2.1 q-2,0.1 -2.6,2.1z" fill="#101010"/>
<circle cx="815.2" cy="649.2" r="5" fill="#c8c8c8" stroke="#ffffff" stroke-width="0.5"/>
<path d="M811.6,653.4000000000001 q3.6,-3.4 7.2,0 a5,5 0 0 1 -7.2,0z" fill="#808080" opacity="0.85"/>
<ellipse cx="815.3000000000001" cy="649.0" rx="2.1" ry="2.7" fill="#e0d0c8"/>
<path d="M812.7,648.6 q-0.3,-3.6 2.6,-3.7 q2.9,0.1 2.6,3.7 q-0.6,-2 -2.6,-2.1 q-2,0.1 -2.6,2.1z" fill="#808080"/>
<circle cx="825.6" cy="649.2" r="4.8" fill="#f3effb"/>
<text x="825.6" y="651.2" font-size="5.6" fill="#8a7cb8" text-anchor="middle">+2</text>
<g fill="none" stroke="#4a4d55" stroke-width="0.9"><path d="M940.4,646.6 h7 M942.4,646.6 v-1.3 h3 v1.3 M941.2,646.6 l0.5,6.6 h4.4 l0.5,-6.6 M943.9,648.4000000000001 v3"/></g>
<g fill="none" stroke="#4a4d55" stroke-width="0.9"><path d="M961.2,653.2 l0.6,-2.4 l5.6,-5.6 a1.2,1.2 0 0 1 1.7,1.7 l-5.6,5.6 z"/></g>
<rect x="247.4" y="679.1" width="9.2" height="9.2" rx="2.2" fill="#ffffff" stroke="#e4e4e8" stroke-width="0.8"/>
<text x="287.3" y="686.9000000000001" font-size="8.0" fill="#222328" stroke="#222328" stroke-width="0.1" textLength="189.5" lengthAdjust="spacingAndGlyphs">Reno 12F Dual SIM Olive Green 8GB RAM 256GB 4G</text>
<rect x="566" y="679.2" width="52.5" height="9.2" rx="4.6" fill="#e5f7ea"/>
<text x="592.2" y="685.8000000000001" font-size="5.1" fill="#2f8a50" stroke="#2f8a50" stroke-width="0.1" text-anchor="middle" textLength="44" lengthAdjust="spacingAndGlyphs">Transaction Done</text>
<text x="678.3" y="686.8000000000001" font-size="8.6" fill="#2a2b30" text-anchor="middle" textLength="61.1" lengthAdjust="spacingAndGlyphs">23/8/2025, 21:42</text>
<text x="740.5" y="686.8000000000001" font-size="8.3" fill="#2a2b30" text-anchor="middle" textLength="16.2" lengthAdjust="spacingAndGlyphs">x109</text>
<text x="884.5" y="686.8000000000001" font-size="8.6" fill="#2a2b30" text-anchor="middle" textLength="32" lengthAdjust="spacingAndGlyphs">$133.890</text>
<circle cx="777.0" cy="683.7" r="5" fill="#d0b8a8" stroke="#ffffff" stroke-width="0.5"/>
<path d="M773.4,687.9000000000001 q3.6,-3.4 7.2,0 a5,5 0 0 1 -7.2,0z" fill="#3a2820" opacity="0.85"/>
<ellipse cx="777.1" cy="683.5" rx="2.1" ry="2.7" fill="#b89080"/>
<path d="M774.5,683.1 q-0.3,-3.6 2.6,-3.7 q2.9,0.1 2.6,3.7 q-0.6,-2 -2.6,-2.1 q-2,0.1 -2.6,2.1z" fill="#3a2820"/>
<circle cx="786.55" cy="683.7" r="5" fill="#b8c0a8" stroke="#ffffff" stroke-width="0.5"/>
<path d="M782.9499999999999,687.9000000000001 q3.6,-3.4 7.2,0 a5,5 0 0 1 -7.2,0z" fill="#202018" opacity="0.85"/>
<ellipse cx="786.65" cy="683.5" rx="2.1" ry="2.7" fill="#6a5040"/>
<path d="M784.05,683.1 q-0.3,-3.6 2.6,-3.7 q2.9,0.1 2.6,3.7 q-0.6,-2 -2.6,-2.1 q-2,0.1 -2.6,2.1z" fill="#202018"/>
<circle cx="796.1" cy="683.7" r="5" fill="#e8d8c8" stroke="#ffffff" stroke-width="0.5"/>
<path d="M792.5,687.9000000000001 q3.6,-3.4 7.2,0 a5,5 0 0 1 -7.2,0z" fill="#4a2818" opacity="0.85"/>
<ellipse cx="796.2" cy="683.5" rx="2.1" ry="2.7" fill="#a06848"/>
<path d="M793.6,683.1 q-0.3,-3.6 2.6,-3.7 q2.9,0.1 2.6,3.7 q-0.6,-2 -2.6,-2.1 q-2,0.1 -2.6,2.1z" fill="#4a2818"/>
<circle cx="805.65" cy="683.7" r="5" fill="#f0e0e0" stroke="#ffffff" stroke-width="0.5"/>
<path d="M802.05,687.9000000000001 q3.6,-3.4 7.2,0 a5,5 0 0 1 -7.2,0z" fill="#c0a090" opacity="0.85"/>
<ellipse cx="805.75" cy="683.5" rx="2.1" ry="2.7" fill="#e8c8b8"/>
<path d="M803.15,683.1 q-0.3,-3.6 2.6,-3.7 q2.9,0.1 2.6,3.7 q-0.6,-2 -2.6,-2.1 q-2,0.1 -2.6,2.1z" fill="#c0a090"/>
<circle cx="815.2" cy="683.7" r="5" fill="#c0c098" stroke="#ffffff" stroke-width="0.5"/>
<path d="M811.6,687.9000000000001 q3.6,-3.4 7.2,0 a5,5 0 0 1 -7.2,0z" fill="#5a4830" opacity="0.85"/>
<ellipse cx="815.3000000000001" cy="683.5" rx="2.1" ry="2.7" fill="#b09070"/>
<path d="M812.7,683.1 q-0.3,-3.6 2.6,-3.7 q2.9,0.1 2.6,3.7 q-0.6,-2 -2.6,-2.1 q-2,0.1 -2.6,2.1z" fill="#5a4830"/>
<g fill="none" stroke="#4a4d55" stroke-width="0.9"><path d="M940.4,681.1 h7 M942.4,681.1 v-1.3 h3 v1.3 M941.2,681.1 l0.5,6.6 h4.4 l0.5,-6.6 M943.9,682.9000000000001 v3"/></g>
<g fill="none" stroke="#4a4d55" stroke-width="0.9"><path d="M961.2,687.7 l0.6,-2.4 l5.6,-5.6 a1.2,1.2 0 0 1 1.7,1.7 l-5.6,5.6 z"/></g>
<rect x="247.4" y="713.6" width="9.2" height="9.2" rx="2.2" fill="#fbf6fd" stroke="#8f86a3" stroke-width="0.8"/>
<path d="M249.6,718.3000000000001 l1.8,1.8 l3.2,-3.4" fill="none" stroke="#6e5c9e" stroke-width="1.1" stroke-linecap="round" stroke-linejoin="round"/>
<text x="287.3" y="721.4000000000001" font-size="8.0" fill="#222328" stroke="#222328" stroke-width="0.1" textLength="210" lengthAdjust="spacingAndGlyphs">Realme P1 Pro Dual SIM Parrot Blue 12GB RAM 256GB 5G</text>
<rect x="566" y="713.7" width="52.5" height="9.2" rx="4.6" fill="#dfe7fb"/>
<text x="592.2" y="720.3000000000001" font-size="5.1" fill="#5a72c4" stroke="#5a72c4" stroke-width="0.1" text-anchor="middle" textLength="44" lengthAdjust="spacingAndGlyphs">Delivery to cust</text>
<text x="678.3" y="721.3000000000001" font-size="8.6" fill="#2a2b30" text-anchor="middle" textLength="63" lengthAdjust="spacingAndGlyphs">30/11/2025, 21:42</text>
<text x="740.5" y="721.3000000000001" font-size="8.3" fill="#2a2b30" text-anchor="middle" textLength="13.2" lengthAdjust="spacingAndGlyphs">x55</text>
<text x="884.5" y="721.3000000000001" font-size="8.6" fill="#2a2b30" text-anchor="middle" textLength="30.6" lengthAdjust="spacingAndGlyphs">$98.899</text>
<circle cx="777.0" cy="718.2" r="5" fill="#c8b8a8" stroke="#ffffff" stroke-width="0.5"/>
<path d="M773.4,722.4000000000001 q3.6,-3.4 7.2,0 a5,5 0 0 1 -7.2,0z" fill="#4a3830" opacity="0.85"/>
<ellipse cx="777.1" cy="718.0" rx="2.1" ry="2.7" fill="#a08070"/>
<path d="M774.5,717.6 q-0.3,-3.6 2.6,-3.7 q2.9,0.1 2.6,3.7 q-0.6,-2 -2.6,-2.1 q-2,0.1 -2.6,2.1z" fill="#4a3830"/>
<circle cx="786.55" cy="718.2" r="5" fill="#f0e0d0" stroke="#ffffff" stroke-width="0.5"/>
<path d="M782.9499999999999,722.4000000000001 q3.6,-3.4 7.2,0 a5,5 0 0 1 -7.2,0z" fill="#c09070" opacity="0.85"/>
<ellipse cx="786.65" cy="718.0" rx="2.1" ry="2.7" fill="#e8c0a0"/>
<path d="M784.05,717.6 q-0.3,-3.6 2.6,-3.7 q2.9,0.1 2.6,3.7 q-0.6,-2 -2.6,-2.1 q-2,0.1 -2.6,2.1z" fill="#c09070"/>
<circle cx="796.1" cy="718.2" r="5" fill="#c0c0a0" stroke="#ffffff" stroke-width="0.5"/>
<path d="M792.5,722.4000000000001 q3.6,-3.4 7.2,0 a5,5 0 0 1 -7.2,0z" fill="#3a3020" opacity="0.85"/>
<ellipse cx="796.2" cy="718.0" rx="2.1" ry="2.7" fill="#a08060"/>
<path d="M793.6,717.6 q-0.3,-3.6 2.6,-3.7 q2.9,0.1 2.6,3.7 q-0.6,-2 -2.6,-2.1 q-2,0.1 -2.6,2.1z" fill="#3a3020"/>
<circle cx="805.65" cy="718.2" r="5" fill="#d8c0b0" stroke="#ffffff" stroke-width="0.5"/>
<path d="M802.05,722.4000000000001 q3.6,-3.4 7.2,0 a5,5 0 0 1 -7.2,0z" fill="#5a3020" opacity="0.85"/>
<ellipse cx="805.75" cy="718.0" rx="2.1" ry="2.7" fill="#b07860"/>
<path d="M803.15,717.6 q-0.3,-3.6 2.6,-3.7 q2.9,0.1 2.6,3.7 q-0.6,-2 -2.6,-2.1 q-2,0.1 -2.6,2.1z" fill="#5a3020"/>
<circle cx="815.2" cy="718.2" r="5" fill="#e8e8e8" stroke="#ffffff" stroke-width="0.5"/>
<path d="M811.6,722.4000000000001 q3.6,-3.4 7.2,0 a5,5 0 0 1 -7.2,0z" fill="#202020" opacity="0.85"/>
<ellipse cx="815.3000000000001" cy="718.0" rx="2.1" ry="2.7" fill="#8a6a58"/>
<path d="M812.7,717.6 q-0.3,-3.6 2.6,-3.7 q2.9,0.1 2.6,3.7 q-0.6,-2 -2.6,-2.1 q-2,0.1 -2.6,2.1z" fill="#202020"/>
<circle cx="825.6" cy="718.2" r="4.8" fill="#f3effb"/>
<text x="825.6" y="720.2" font-size="5.6" fill="#8a7cb8" text-anchor="middle">+6</text>
<g fill="none" stroke="#4a4d55" stroke-width="0.9"><path d="M940.4,715.6 h7 M942.4,715.6 v-1.3 h3 v1.3 M941.2,715.6 l0.5,6.6 h4.4 l0.5,-6.6 M943.9,717.4000000000001 v3"/></g>
<g fill="none" stroke="#4a4d55" stroke-width="0.9"><path d="M961.2,722.2 l0.6,-2.4 l5.6,-5.6 a1.2,1.2 0 0 1 1.7,1.7 l-5.6,5.6 z"/></g>
<linearGradient id="sg" x1="0" y1="0" x2="1" y2="0"><stop offset="0" stop-color="#102830"/><stop offset="0.45" stop-color="#b8e0e0"/><stop offset="0.75" stop-color="#f09080"/><stop offset="1" stop-color="#e86858"/></linearGradient>
<rect x="262.5" y="571.1" width="19" height="19" fill="#fafafa"/>
<path d="M272,589.8000000000001 L281.5,576.6 L281.5,589.8000000000001 Z" fill="#d6d6d8"/>
<path d="M279,584.6 l-1.2,2.2 h2 M279.4,585.1 v3" stroke="#222" stroke-width="0.8" fill="none"/>
<rect x="264.6" y="577.3000000000001" width="12.8" height="5.4" rx="1.2" transform="rotate(-52 271 579.8000000000001)" fill="#5cc0d8" stroke="#3792ab" stroke-width="0.6"/>
<circle cx="272" cy="615.0" r="9.3" fill="#8c1414" stroke="#3a0808" stroke-width="0.7"/>
<rect x="264.1" y="610.9" width="15" height="8" rx="1" transform="rotate(52 271.6 614.9)" fill="url(#sg)"/>
<circle cx="271.9" cy="649.2" r="10" fill="#e6e6ea"/>
<rect x="263.5" y="648.2" width="17" height="4.6" rx="1" transform="rotate(-17 272 650.5)" fill="#2e3840"/>
<rect x="263.5" y="646.8000000000001" width="17" height="4.2" rx="1" transform="rotate(-17 272 649.2)" fill="#62b0b0"/>
<rect x="268" y="645.2" width="12" height="3.6" rx="1" transform="rotate(-17 274 647.0)" fill="#dca0b8"/>
<rect x="268.5" y="679.1" width="8" height="3.8" rx="0.8" transform="rotate(-42 272.5 681.0)" fill="#26313a" stroke="#7fa4bc" stroke-width="0.35"/>
<rect x="266.5" y="685.2" width="11" height="4" rx="0.8" transform="rotate(-36 272 687.2)" fill="#26313a" stroke="#7fa4bc" stroke-width="0.35"/>
<circle cx="271.9" cy="718.2" r="9.6" fill="#c4b8d6"/>
<path d="M271.9,708.6 A9.6,9.6 0 0 0 266,725.8000000000001 L268,720.2 L270,714.2 Z" fill="#6a26b8"/>
<path d="M268.5,717.2 h5.5 l1.2,6.5 a9.6,9.6 0 0 1 -7.8,1.5 z" fill="#f2f0f4"/>
<rect x="270.3" y="713.2" width="3.4" height="3" fill="#2c2434"/>
<path d="M276,715.2 l1.5,9" stroke="#7a6a8a" stroke-width="0.8"/>
<rect x="247.5" y="741.5" width="41" height="17" rx="3.5" fill="#ffffff" stroke="#e2e3e6" stroke-width="0.8"/>
<text x="268" y="752.4" font-size="6.6" fill="#2a2b30" stroke="#2a2b30" stroke-width="0.3" text-anchor="middle" textLength="27.8" lengthAdjust="spacingAndGlyphs">Previous</text>
<rect x="942.5" y="741.5" width="28" height="17" rx="3.5" fill="#ffffff" stroke="#e2e3e6" stroke-width="0.8"/>
<text x="956.5" y="752.4" font-size="6.6" fill="#2a2b30" stroke="#2a2b30" stroke-width="0.3" text-anchor="middle" textLength="15" lengthAdjust="spacingAndGlyphs">Next</text>
<text x="615" y="752.1" font-size="6.6" fill="#3a3b40" text-anchor="middle" textLength="38.5" lengthAdjust="spacingAndGlyphs">Page 1 of 10</text>
<g opacity="0.33" fill="none" stroke="#b4b4b4" stroke-width="3.8" stroke-linecap="round" stroke-linejoin="round">
<path d="M489,776 A8.6,8.6 0 1 0 489,792.6 H584"/>
<path d="M497,761 V792"/>
<circle cx="516.7" cy="780.5" r="7.6"/>
<path d="M541,779 V790 M553,778 V790 M573.5,775 V790"/>
<circle cx="592.3" cy="783.2" r="8.4"/>
</g>
<g opacity="0.33" fill="#b4b4b4"><circle cx="513.4" cy="762.6" r="2.4"/><circle cx="523.2" cy="762.6" r="2.4"/><circle cx="537.4" cy="770.2" r="2.4"/><circle cx="545.2" cy="770.2" r="2.4"/></g>
<g opacity="0.33">
<text x="539.6" y="814" font-size="21" fill="#b4b4b4" font-weight="700" text-anchor="middle" textLength="129.6" lengthAdjust="spacingAndGlyphs">mostaql.com</text>
</g>
</svg></body></html>
